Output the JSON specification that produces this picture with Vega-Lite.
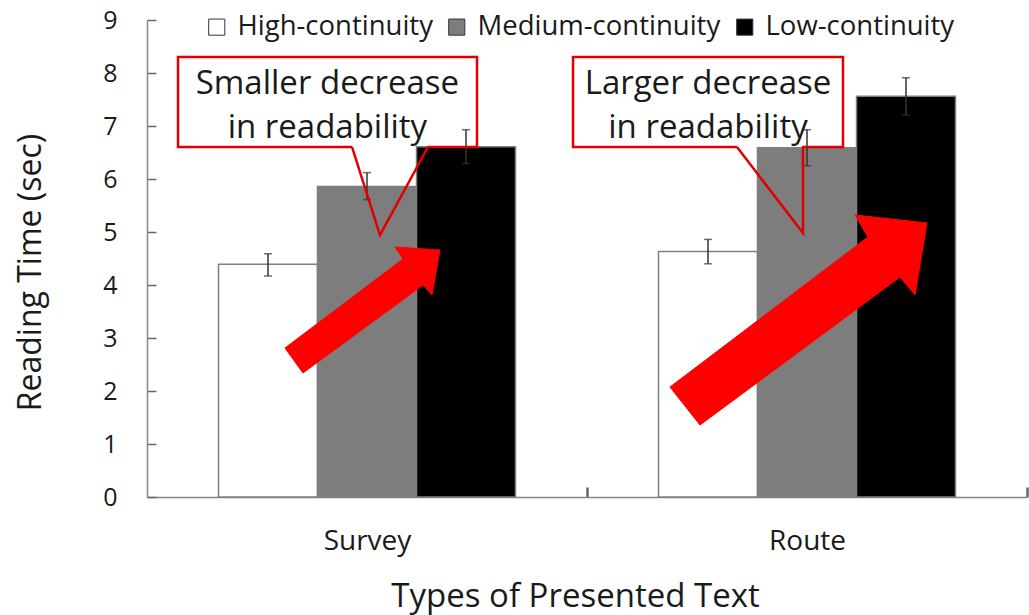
{
  "$schema": "https://vega.github.io/schema/vega-lite/v6.json",
  "width": 880,
  "height": 477,
  "autosize": {"type": "none"},
  "padding": {"left": 147, "top": 20, "right": 2, "bottom": 118},
  "background": "white",
  "config": {
    "view": {"stroke": null},
    "font": "Open Sans",
    "axis": {"labelFont": "Open Sans", "titleFont": "Open Sans", "labelColor": "#1a1a1a", "titleColor": "#1a1a1a", "domainColor": "#868686", "tickColor": "#666", "grid": false, "titleFontWeight": "normal"}
  },
  "datasets": {
    "bars": [
      {"Text": "Survey", "Continuity": "High-continuity", "Time": 4.39, "Lo": 4.17, "Hi": 4.59},
      {"Text": "Survey", "Continuity": "Medium-continuity", "Time": 5.86, "Lo": 5.61, "Hi": 6.12},
      {"Text": "Survey", "Continuity": "Low-continuity", "Time": 6.61, "Lo": 6.29, "Hi": 6.93},
      {"Text": "Route", "Continuity": "High-continuity", "Time": 4.63, "Lo": 4.40, "Hi": 4.86},
      {"Text": "Route", "Continuity": "Medium-continuity", "Time": 6.59, "Lo": 6.25, "Hi": 6.93},
      {"Text": "Route", "Continuity": "Low-continuity", "Time": 7.56, "Lo": 7.21, "Hi": 7.91}
    ],
    "callouts": [
      {"id": "a", "o": 1, "u": 0.4659, "v": 6.604},
      {"id": "a", "o": 2, "u": 0.0705, "v": 6.604},
      {"id": "a", "o": 3, "u": 0.0705, "v": 8.302},
      {"id": "a", "o": 4, "u": 0.75, "v": 8.302},
      {"id": "a", "o": 5, "u": 0.75, "v": 6.604},
      {"id": "a", "o": 6, "u": 0.6386, "v": 6.604},
      {"id": "a", "o": 7, "u": 0.5295, "v": 4.943},
      {"id": "a", "o": 8, "u": 0.4659, "v": 6.604},
      {"id": "b", "o": 1, "u": 1.3409, "v": 6.604},
      {"id": "b", "o": 2, "u": 0.9682, "v": 6.604},
      {"id": "b", "o": 3, "u": 0.9682, "v": 8.302},
      {"id": "b", "o": 4, "u": 1.5818, "v": 8.302},
      {"id": "b", "o": 5, "u": 1.5818, "v": 6.604},
      {"id": "b", "o": 6, "u": 1.4909, "v": 6.604},
      {"id": "b", "o": 7, "u": 1.4909, "v": 4.981},
      {"id": "b", "o": 8, "u": 1.3409, "v": 6.604}
    ],
    "labels": [
      {"t": "Smaller decrease", "u": 0.41, "v": 7.80},
      {"t": "in readability", "u": 0.41, "v": 6.96},
      {"t": "Larger decrease", "u": 1.275, "v": 7.80},
      {"t": "in readability", "u": 1.275, "v": 6.96}
    ],
    "arrows": [
      {"id": "a", "o": 1, "u": 0.3136, "v": 2.811},
      {"id": "a", "o": 2, "u": 0.5818, "v": 4.491},
      {"id": "a", "o": 3, "u": 0.5636, "v": 4.717},
      {"id": "a", "o": 4, "u": 0.6659, "v": 4.660},
      {"id": "a", "o": 5, "u": 0.6477, "v": 3.811},
      {"id": "a", "o": 6, "u": 0.6273, "v": 4.0},
      {"id": "a", "o": 7, "u": 0.3545, "v": 2.340},
      {"id": "b", "o": 1, "u": 1.1886, "v": 2.075},
      {"id": "b", "o": 2, "u": 1.6386, "v": 4.906},
      {"id": "b", "o": 3, "u": 1.6091, "v": 5.321},
      {"id": "b", "o": 4, "u": 1.7727, "v": 5.170},
      {"id": "b", "o": 5, "u": 1.7455, "v": 3.811},
      {"id": "b", "o": 6, "u": 1.7114, "v": 4.151},
      {"id": "b", "o": 7, "u": 1.2568, "v": 1.358}
    ]
  },
  "layer": [
    {
      "data": {"name": "bars"},
      "encoding": {
        "x": {
          "field": "Text", "type": "nominal", "sort": ["Survey", "Route"],
          "scale": {"paddingInner": 0.325, "paddingOuter": 0.1625},
          "axis": {"title": "Types of Presented Text", "titleFontSize": 33, "titlePadding": 25, "titleX": 428, "labelFontSize": 28, "labelAngle": 0, "labelPadding": 40, "tickOffset": 220, "labelOffset": -220, "tickSize": -10, "tickWidth": 2.5, "domainWidth": 1.5}
        },
        "xOffset": {"field": "Continuity", "type": "nominal", "sort": ["High-continuity", "Medium-continuity", "Low-continuity"], "scale": {"paddingInner": 0, "paddingOuter": 0}}
      },
      "layer": [
        {
          "mark": {"type": "bar", "stroke": "#7f7f7f", "strokeWidth": 1.5},
          "encoding": {
            "y": {
              "field": "Time", "type": "quantitative",
              "scale": {"domain": [0, 9], "nice": false},
              "axis": {"title": "Reading Time (sec)", "titleFontSize": 32, "titlePadding": 55, "titleY": 252, "labelFontSize": 25, "labelPadding": 39, "values": [0,1,2,3,4,5,6,7,8,9], "tickSize": -9, "tickWidth": 1.5, "domainWidth": 1.5}
            },
            "color": {
              "field": "Continuity", "type": "nominal",
              "scale": {"domain": ["High-continuity", "Medium-continuity", "Low-continuity"], "range": ["#ffffff", "#7d7d7d", "#000000"]},
              "legend": {"title": null, "orient": "none", "legendX": 56, "legendY": -7, "direction": "horizontal", "labelFont": "Open Sans", "labelFontSize": 27.5, "labelColor": "#1a1a1a", "labelLimit": 0, "symbolType": "square", "symbolSize": 260, "symbolStrokeColor": "#333", "symbolStrokeWidth": 1, "symbolOpacity": 1, "labelOffset": 7, "columnPadding": 10, "padding": 0}
            }
          }
        },
        {
          "mark": {"type": "rule", "color": "#333", "strokeWidth": 1.5},
          "encoding": {
            "y": {"field": "Lo", "type": "quantitative", "axis": {"title": "Reading Time (sec)", "titleFontSize": 32, "titlePadding": 55, "titleY": 252, "labelFontSize": 25, "labelPadding": 39, "values": [0,1,2,3,4,5,6,7,8,9], "tickSize": -9, "tickWidth": 1.5, "domainWidth": 1.5}},
            "y2": {"field": "Hi"}
          }
        },
        {
          "mark": {"type": "tick", "color": "#333", "size": 8, "thickness": 1.5},
          "encoding": {"y": {"field": "Lo", "type": "quantitative", "axis": {"title": "Reading Time (sec)", "titleFontSize": 32, "titlePadding": 55, "titleY": 252, "labelFontSize": 25, "labelPadding": 39, "values": [0,1,2,3,4,5,6,7,8,9], "tickSize": -9, "tickWidth": 1.5, "domainWidth": 1.5}}}
        },
        {
          "mark": {"type": "tick", "color": "#333", "size": 8, "thickness": 1.5},
          "encoding": {"y": {"field": "Hi", "type": "quantitative", "axis": {"title": "Reading Time (sec)", "titleFontSize": 32, "titlePadding": 55, "titleY": 252, "labelFontSize": 25, "labelPadding": 39, "values": [0,1,2,3,4,5,6,7,8,9], "tickSize": -9, "tickWidth": 1.5, "domainWidth": 1.5}}}
        }
      ]
    },
    {
      "encoding": {
        "x": {"field": "u", "type": "quantitative", "scale": {"domain": [0, 2], "nice": false, "zero": false}, "axis": null},
        "y": {"field": "v", "type": "quantitative", "axis": {"title": "Reading Time (sec)", "titleFontSize": 32, "titlePadding": 55, "titleY": 252, "labelFontSize": 25, "labelPadding": 39, "values": [0,1,2,3,4,5,6,7,8,9], "tickSize": -9, "tickWidth": 1.5, "domainWidth": 1.5}}
      },
      "layer": [
        {
          "data": {"name": "callouts"},
          "mark": {"type": "line", "stroke": "#e00000", "strokeWidth": 2.5, "strokeJoin": "miter"},
          "encoding": {
            "detail": {"field": "id"},
            "order": {"field": "o", "type": "quantitative"}
          }
        },
        {
          "data": {"name": "labels"},
          "mark": {"type": "text", "font": "Open Sans", "fontSize": 33, "color": "#1a1a1a", "baseline": "middle", "align": "center"},
          "encoding": {
            "text": {"field": "t"}
          }
        },
        {
          "data": {"name": "arrows"},
          "mark": {"type": "line", "fill": "#ff0000", "stroke": "#ff0000", "strokeWidth": 1, "interpolate": "linear-closed"},
          "encoding": {
            "detail": {"field": "id"},
            "order": {"field": "o", "type": "quantitative"}
          }
        }
      ]
    }
  ],
  "resolve": {"scale": {"x": "independent"}, "axis": {"x": "independent"}}
}
